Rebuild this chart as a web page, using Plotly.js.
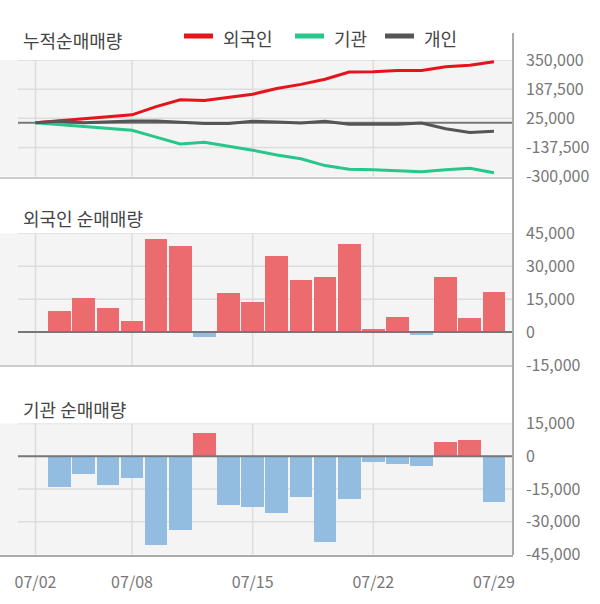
<!DOCTYPE html>
<html>
<head>
<meta charset="utf-8">
<script src="https://cdn.plot.ly/plotly-3.0.1.min.js"></script>
<style>html,body{margin:0;padding:0;background:#fff;}#chart{width:600px;height:604px;}</style>
</head>
<body>
<div id="chart"></div>
<script>
// ---- data ----
const dates = ['07/02','07/03','07/04','07/05','07/08','07/09','07/10','07/11','07/12','07/15',
               '07/16','07/17','07/18','07/19','07/22','07/23','07/24','07/25','07/26','07/29'];
const tickIdx = [0, 4, 9, 14, 19];
const tickLabels = ['07/02','07/08','07/15','07/22','07/29'];

// cumulative net buying
const cumForeign = [0, 10000, 23000, 34000, 44000, 90000, 128000, 124000, 140000, 159000,
                    191000, 214000, 243000, 283000, 285000, 291000, 291000, 312000, 321000, 340000];
const cumInst = [0, -10000, -19000, -29000, -42000, -80000, -119000, -109000, -130000, -153000,
                 -180000, -201000, -239000, -260000, -262000, -268000, -273000, -262000, -254000, -279000];
const cumIndiv = [0, 8000, 0, 6000, 10000, 10000, 4000, -4000, -4000, 8000,
                  4000, -2000, 8000, -8000, -8000, -8000, -2000, -34000, -54000, -48000];

// daily net buying (07/03 .. 07/29)
const barDates = dates.slice(1);
const foreignDaily = [9600, 15500, 10900, 5000, 42400, 39200, -2100, 17800, 13700, 34700,
                      23700, 25100, 40100, 1400, 6800, -1200, 25100, 6400, 18200];
const instDaily = [-13900, -7900, -13000, -9800, -40500, -33600, 10500, -22100, -23100, -25800,
                   -18500, -39100, -19800, -2700, -3400, -4300, 6700, 7600, -20800];

// axis ticks
const topTicks = [350000, 187500, 25000, -137500, -300000];
const topTickText = ['350,000','187,500','25,000','-137,500','-300,000'];
const midTicks = [45000, 30000, 15000, 0, -15000];
const midTickText = ['45,000','30,000','15,000','0','-15,000'];
const botTicks = [15000, 0, -15000, -30000, -45000];
const botTickText = ['15,000','0','-15,000','-30,000','-45,000'];

const seriesNames = ['외국인', '기관', '개인'];
const panelTitles = ['누적순매매량', '외국인 순매매량', '기관 순매매량'];

// ---- style ----
const FONT = '"Noto Sans CJK KR", "Noto Sans", sans-serif';
const RED = '#e5141a', GREEN = '#27c68a', DARK = '#555555';
const POS = '#ec6b6e', NEG = '#92bde0';
const W = 600, H = 604, PW = 513;
const py = v => (H - v) / H;      // pixel y -> paper
const px = v => v / PW;           // pixel x -> paper

const traces = [
  {x: dates, y: cumForeign, type: 'scatter', mode: 'lines', line: {color: RED, width: 3}, xaxis: 'x', yaxis: 'y', name: seriesNames[0]},
  {x: dates, y: cumInst, type: 'scatter', mode: 'lines', line: {color: GREEN, width: 3}, xaxis: 'x', yaxis: 'y', name: seriesNames[1]},
  {x: dates, y: cumIndiv, type: 'scatter', mode: 'lines', line: {color: DARK, width: 3}, xaxis: 'x', yaxis: 'y', name: seriesNames[2]},
  {x: barDates, y: foreignDaily, type: 'bar', width: 0.94, marker: {color: foreignDaily.map(v => v >= 0 ? POS : NEG)}, xaxis: 'x2', yaxis: 'y2'},
  {x: barDates, y: instDaily, type: 'bar', width: 0.94, marker: {color: instDaily.map(v => v >= 0 ? POS : NEG)}, xaxis: 'x3', yaxis: 'y3'}
];

const xr = [-1.471, 19.79];
function xax(anchor, showLabels, lineColor) {
  return {
    type: 'category', categoryorder: 'array', categoryarray: dates,
    range: xr, anchor: anchor, showgrid: false, zeroline: false,
    showline: true, linecolor: lineColor, linewidth: 2,
    tickmode: 'array', tickvals: tickIdx, ticktext: tickLabels,
    showticklabels: showLabels, ticks: '', ticklabelstandoff: 12,
    tickfont: {family: FONT, size: 16, color: '#777'}, fixedrange: true
  };
}
function yax(domain, range, vals, text) {
  return {
    domain: domain, range: range, side: 'right',
    showgrid: false, zeroline: false, showline: false,
    tickmode: 'array', tickvals: vals, ticktext: text, ticks: '',
    ticklabelstandoff: 12,
    tickfont: {family: FONT, size: 16, color: '#777'}, fixedrange: true
  };
}

const yTop = yax([py(176.5), py(60)], [-300000, 350000], topTicks, topTickText); yTop.anchor = 'x';
const yMid = yax([py(365), py(233.3)], [-15000, 45000], midTicks, midTickText); yMid.anchor = 'x2';
const yBot = yax([py(554.5), py(423.5)], [-45000, 15000], botTicks, botTickText); yBot.anchor = 'x3';

const shapes = [];
const panels = [['y', topTicks], ['y2', midTicks], ['y3', botTicks]];
const xrefs = ['x', 'x2', 'x3'];
panels.forEach(([yref, ticks], p) => {
  ticks.forEach(t => {
    if (t === Math.min(...ticks)) return;
    shapes.push({type: 'line', xref: 'paper', yref: yref, x0: px(18), x1: 1, y0: t, y1: t,
                 line: {color: '#dcdcdc', width: 1.5}, layer: 'below'});
  });
  tickIdx.slice(0, -1).forEach(i => {
    shapes.push({type: 'line', xref: xrefs[p], yref: yref + ' domain', x0: i, x1: i, y0: 0, y1: 1,
                 line: {color: '#dcdcdc', width: 1.5}, layer: 'below'});
  });
  shapes.push({type: 'line', xref: 'paper', yref: yref, x0: px(18), x1: 1, y0: 0, y1: 0,
               line: {color: '#777777', width: 2}, layer: p === 0 ? 'below' : 'above'});
});
shapes.push({type: 'line', xref: 'paper', yref: 'paper', x0: 1, x1: 1, y0: py(555), y1: py(33),
             line: {color: '#aaaaaa', width: 2}, layer: 'above'});

const legendX = [184, 295, 385];
const legendColors = [RED, GREEN, DARK];
const annotations = [];
seriesNames.forEach((n, i) => {
  shapes.push({type: 'line', xref: 'paper', yref: 'paper', x0: px(legendX[i]), x1: px(legendX[i] + 29),
               y0: py(36), y1: py(36), line: {color: legendColors[i], width: 5}});
  annotations.push({text: n, xref: 'paper', yref: 'paper', x: px(legendX[i] + 37), y: py(38),
                    xanchor: 'left', yanchor: 'middle', showarrow: false,
                    font: {family: FONT, size: 18, color: '#444'}});
});
const titleY = [40, 218, 409];
panelTitles.forEach((t, i) => {
  annotations.push({text: t, xref: 'paper', yref: 'paper', x: px(21), y: py(titleY[i]),
                    xanchor: 'left', yanchor: 'middle', showarrow: false,
                    font: {family: FONT, size: 18, color: '#444'}});
});

const layout = {
  width: W, height: H,
  margin: {l: 0, r: W - PW, t: 0, b: 0},
  paper_bgcolor: '#ffffff', plot_bgcolor: '#f4f4f4',
  showlegend: false, bargap: 0,
  font: {family: FONT},
  xaxis: xax('y', false, '#cccccc'),
  xaxis2: xax('y2', false, '#cccccc'),
  xaxis3: xax('y3', true, '#aaaaaa'),
  yaxis: yTop, yaxis2: yMid, yaxis3: yBot,
  shapes: shapes, annotations: annotations
};

Plotly.newPlot('chart', traces, layout, {displayModeBar: false, staticPlot: true});
</script>
</body>
</html>
